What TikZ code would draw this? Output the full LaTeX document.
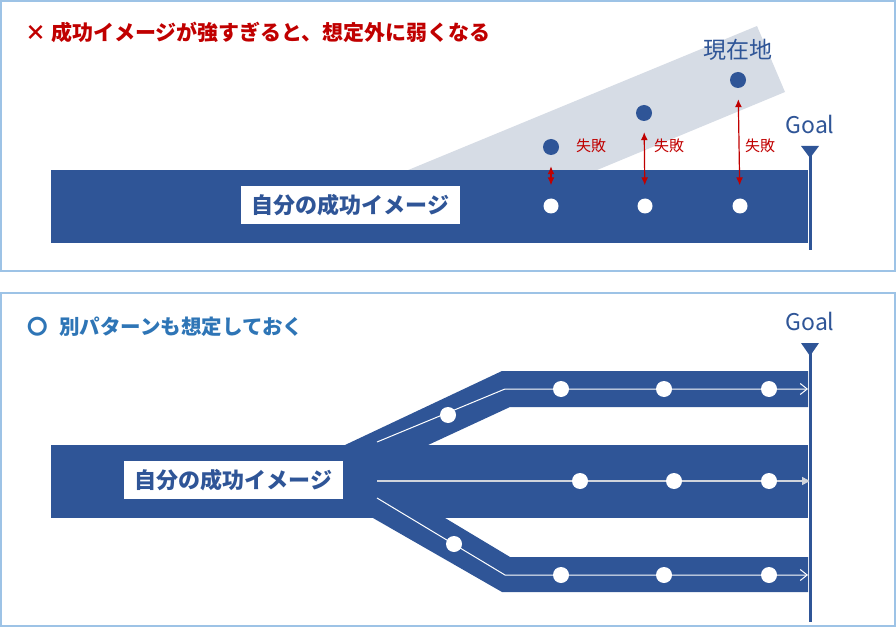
\documentclass[tikz,border=0pt]{standalone}
\usepackage{fontspec}
\setmainfont{Noto Sans CJK JP}
\usetikzlibrary{arrows.meta,positioning}
\definecolor{barblue}{HTML}{2F5597}
\definecolor{bandgrey}{HTML}{D6DCE5}
\definecolor{failred}{HTML}{C00000}
\definecolor{okblue}{HTML}{2E75B6}
\definecolor{framecol}{HTML}{9DC3E6}
\definecolor{midgrey}{HTML}{D0D4DC}
\begin{document}
\begin{tikzpicture}[x=1pt,y=-1pt,
  frame/.style={draw=framecol,line width=2pt},
  imgbox/.style={fill=white,inner sep=0pt,minimum width=219pt,minimum height=38pt,
    text=barblue,font=\fontsize{22}{26}\selectfont\bfseries},
  bluedot/.style={circle,fill=barblue,inner sep=0pt,minimum size=16pt},
  whitedot/.style={circle,fill=white,inner sep=0pt,minimum size=16pt},
  failarrow/.style={draw=failred,line width=1.2pt,
    {Latex[length=8pt,width=7pt]}-{Latex[length=8pt,width=7pt]},
    shorten <=11pt,shorten >=13pt},
  failtext/.style={text=failred,inner sep=0pt,font=\fontsize{15}{18}\selectfont},
  goaltext/.style={text=barblue,inner sep=0pt,font=\fontsize{23}{27}\selectfont},
  goalline/.style={draw=barblue,line width=3pt},
  whitepath/.style={draw=white,line width=1pt,-{Straight Barb[length=7pt,width=11pt]}},
  greypath/.style={draw=midgrey,line width=1.6pt,-{Triangle[length=8pt,width=8pt]}}]
\useasboundingbox (0,0) rectangle (896,628);
\draw[frame] (1,1) rectangle (895,271);
\draw[frame] (1,293) rectangle (895,626);

\node[anchor=west,text=failred,inner sep=0pt,font=\fontsize{21}{25}\selectfont\bfseries] (title1) at (25,32) {× 成功イメージが強すぎると、想定外に弱くなる};
\fill[bandgrey] (384,180) -- (757,26) -- (785,92) -- (573,180) -- cycle;
\fill[barblue] (51,170) rectangle (808,243);
\node[imgbox] (img1) at (350.5,205.5) {自分の成功イメージ};
\node[bluedot] (p1) at (551,147) {};
\node[bluedot] (p2) at (644,113) {};
\node[bluedot] (p3) at (738,80) {};
\node[whitedot,minimum size=15pt] (w1) at (551,206) {};
\node[whitedot,minimum size=15pt] (w2) at (645,206) {};
\node[whitedot,minimum size=15pt] (w3) at (740,206) {};
\draw[failarrow] (p1) -- (w1);
\draw[failarrow] (p2) -- (w2);
\draw[failarrow] (p3) -- (w3);
\node[failtext] (f1) at (591,146) {失敗};
\node[failtext] (f2) at (669,146) {失敗};
\node[failtext] (f3) at (760,146) {失敗};
\node[goaltext] (now) at (738,50) {現在地};
\node[goaltext] (goal1) at (810,124) {Goal};
\coordinate (g1top) at (810,146);
\coordinate (g1bot) at (810,250);
\draw[goalline] (g1top) -- (g1bot);
\fill[barblue] (801,146) -- (819,146) -- (810,158) -- cycle;

\node[anchor=west,text=okblue,inner sep=0pt,font=\fontsize{20.5}{25}\selectfont\bfseries] (title2) at (27,327) {〇\hspace{7pt} 別パターンも想定しておく};
\fill[barblue] (51,445) rectangle (808,518);
\fill[barblue] (345,445) -- (502,371) -- (808,371) -- (808,407) -- (510,407) -- (428,445) -- cycle;
\fill[barblue] (373,518) -- (502,592) -- (808,592) -- (808,557) -- (510,557) -- (445,518) -- cycle;
\node[imgbox] (img2) at (233.5,480) {自分の成功イメージ};
\coordinate (us) at (377,442);
\coordinate (ubend) at (505,389);
\coordinate (uend) at (808,389);
\coordinate (ms) at (377,481);
\coordinate (mend) at (810,481);
\coordinate (ls) at (377,498);
\coordinate (lbend) at (505,575);
\coordinate (lend) at (808,575);
\draw[whitepath] (us) -- (ubend) -- (uend);
\draw[greypath] (ms) -- (mend);
\draw[whitepath] (ls) -- (lbend) -- (lend);
\node[whitedot] (u0) at (448,415) {};
\node[whitedot] (u1) at (561,389) {};
\node[whitedot] (u2) at (664,389) {};
\node[whitedot] (u3) at (769,389) {};
\node[whitedot] (m1) at (580,481) {};
\node[whitedot] (m2) at (674,481) {};
\node[whitedot] (m3) at (769,481) {};
\node[whitedot] (l0) at (454,544) {};
\node[whitedot] (l1) at (561,575) {};
\node[whitedot] (l2) at (664,575) {};
\node[whitedot] (l3) at (769,575) {};
\node[goaltext] (goal2) at (810,321) {Goal};
\coordinate (g2top) at (810,343);
\coordinate (g2bot) at (810,622);
\draw[goalline] (g2top) -- (g2bot);
\fill[barblue] (801,343) -- (819,343) -- (810,356) -- cycle;
\end{tikzpicture}
\end{document}
